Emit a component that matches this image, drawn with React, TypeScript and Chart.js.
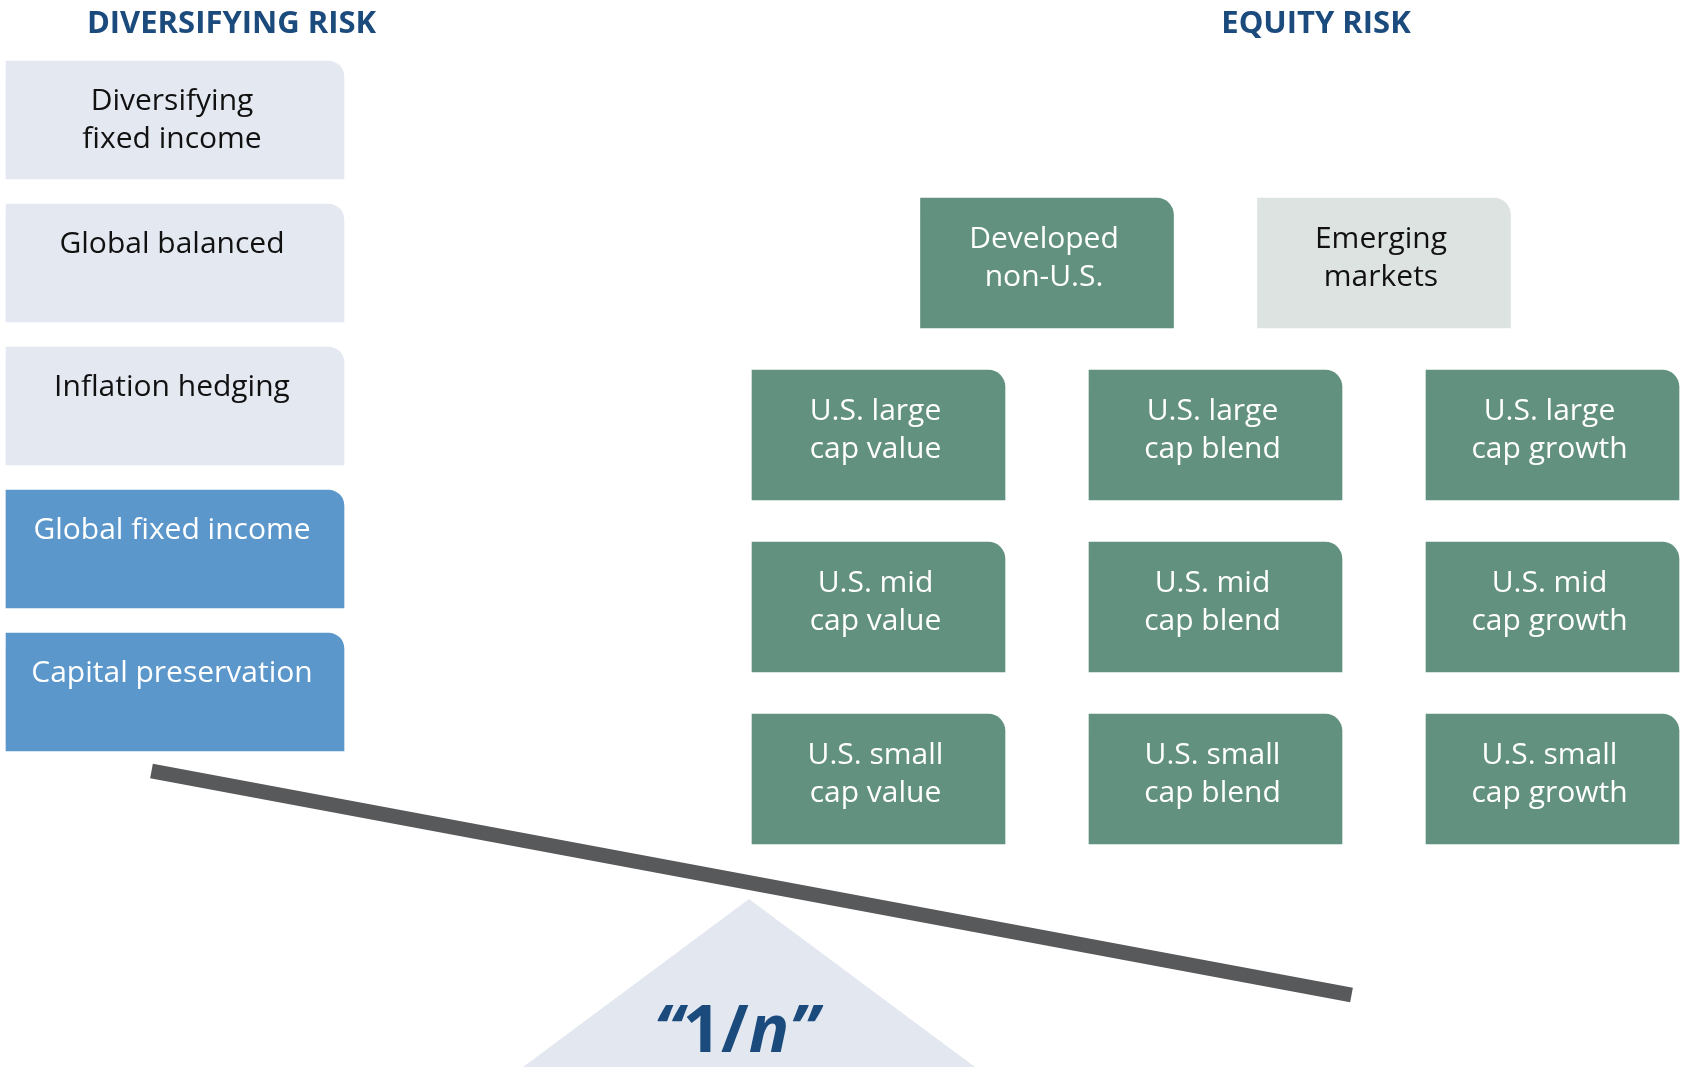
import React, { useEffect, useRef } from "react";
import { Chart, registerables } from "chart.js";

Chart.register(...registerables);

// ---------------- DATA ----------------
const leftTitle = "DIVERSIFYING RISK";
const rightTitle = "EQUITY RISK";
const diversifyingLabels: string[][] = [
  ["Diversifying", "fixed income"],
  ["Global balanced"],
  ["Inflation hedging"],
  ["Global fixed income"],
  ["Capital preservation"],
];
const diversifyingInModel = [false, false, false, true, true];
const internationalLabels: string[][] = [
  ["Developed", "non-U.S."],
  ["Emerging", "markets"],
];
const internationalInModel = [true, false];
const sizeLabels = ["large", "mid", "small"];
const styleLabels = ["value", "blend", "growth"];
const fulcrumParts = ["\u201C", "1", "/", "n", "\u201D"];
const fulcrumItalic = [true, false, false, true, true];

// ---------------- LAYOUT / STYLE ----------------
const W = 1681;
const H = 1067;
const FONT = '"Open Sans", "Noto Sans", sans-serif';
const TITLE_COLOR = "#1B4A7C";
const LIGHT_BOX = "#E3E8F1";
const BLUE_BOX = "#5B97CB";
const GREEN_BOX = "#62917F";
const GREY_GREEN_BOX = "#DDE3E0";
const BEAM_COLOR = "#58595B";
const FULCRUM_COLOR = "#E3E8F0";

const LEFT_X0 = 6;
const LEFT_X1 = 344;
const LEFT_TOP = 61;
const LEFT_STEP = 143;
const LEFT_H = 118;

const GRID_X0 = 752;
const COL_STEP = 337;
const BOX_W = 253;
const GRID_TOP = 198;
const ROW_STEP = 172;
const BOX_H = 130;

const BEAM_START = { x: 151.5, y: 771 };
const BEAM_END = { x: 1351.5, y: 995 };
const APEX = { x: 749, y: 899 };
const BASE_HALF = 226;

// ---------------- BUILD ----------------
const leftPoints = diversifyingLabels.map((_, i) => ({
  x: [LEFT_X0, LEFT_X1],
  y: LEFT_TOP + i * LEFT_STEP + LEFT_H / 2,
}));
const leftColors = diversifyingInModel.map((v) => (v ? BLUE_BOX : LIGHT_BOX));
const leftText = diversifyingInModel.map((v) => (v ? "#FFFFFF" : "#111111"));

const equityPoints: { x: number[]; y: number }[] = [];
const equityLines: string[][] = [];
const equityColors: string[] = [];
const equityText: string[] = [];
internationalLabels.forEach((lines, i) => {
  const x0 = GRID_X0 + (i + 0.5) * COL_STEP;
  equityPoints.push({ x: [x0, x0 + BOX_W], y: GRID_TOP + BOX_H / 2 });
  equityLines.push(lines);
  equityColors.push(internationalInModel[i] ? GREEN_BOX : GREY_GREEN_BOX);
  equityText.push(internationalInModel[i] ? "#FFFFFF" : "#111111");
});
sizeLabels.forEach((size, r) => {
  styleLabels.forEach((style, c) => {
    const x0 = GRID_X0 + c * COL_STEP;
    equityPoints.push({
      x: [x0, x0 + BOX_W],
      y: GRID_TOP + (r + 1) * ROW_STEP + BOX_H / 2,
    });
    equityLines.push([`U.S. ${size}`, `cap ${style}`]);
    equityColors.push(GREEN_BOX);
    equityText.push("#FFFFFF");
  });
});

const boxText: Record<number, { lines: string[][]; colors: string[]; first: number; step: number }> = {
  2: { lines: diversifyingLabels, colors: leftText, first: 49, step: 38 },
  3: { lines: equityLines, colors: equityText, first: 50, step: 38 },
};

const labelPlugin = {
  id: "diagramLabels",
  afterDatasetsDraw(chart: any) {
    const ctx: CanvasRenderingContext2D = chart.ctx;
    const xs = chart.scales.x;
    const ys = chart.scales.y;
    ctx.save();
    ctx.textAlign = "center";
    ctx.textBaseline = "alphabetic";

    ctx.fillStyle = TITLE_COLOR;
    ctx.font = `bold 31px ${FONT}`;
    ctx.fillText(leftTitle, xs.getPixelForValue(231.5), ys.getPixelForValue(33));
    ctx.fillText(rightTitle, xs.getPixelForValue(1316), ys.getPixelForValue(33));

    ctx.font = `30px ${FONT}`;
    Object.keys(boxText).forEach((k) => {
      const di = Number(k);
      const cfg = boxText[di];
      const meta = chart.getDatasetMeta(di);
      meta.data.forEach((el: any, i: number) => {
        const p = el.getProps(["x", "y", "base", "height"], true);
        const cx = (p.x + p.base) / 2 - 3;
        const top = p.y - p.height / 2;
        ctx.fillStyle = cfg.colors[i];
        cfg.lines[i].forEach((t, j) => {
          ctx.fillText(t, cx, top + cfg.first + j * cfg.step);
        });
      });
    });

    // fulcrum label
    const fonts = fulcrumItalic.map((it) => `${it ? "italic " : ""}bold 67px ${FONT}`);
    const widths = fulcrumParts.map((t, i) => {
      ctx.font = fonts[i];
      return ctx.measureText(t).width;
    });
    const total = widths.reduce((a, b) => a + b, 0);
    let x = xs.getPixelForValue(736) - total / 2;
    const by = ys.getPixelForValue(1052);
    ctx.textAlign = "left";
    ctx.fillStyle = TITLE_COLOR;
    fulcrumParts.forEach((t, i) => {
      ctx.font = fonts[i];
      ctx.fillText(t, x, by);
      x += widths[i];
    });
    ctx.restore();
  },
};

export default function App() {
  const ref = useRef<HTMLCanvasElement>(null);
  useEffect(() => {
    const canvas = ref.current!;
    const chart = new Chart(canvas, {
      type: "bar",
      data: {
        datasets: [
          {
            type: "line",
            indexAxis: "x",
            data: [
              { x: APEX.x - BASE_HALF, y: H },
              { x: APEX.x, y: APEX.y },
              { x: APEX.x + BASE_HALF, y: H },
            ],
            borderWidth: 0,
            borderColor: FULCRUM_COLOR,
            backgroundColor: FULCRUM_COLOR,
            fill: { value: H },
            pointRadius: 0,
            tension: 0,
          },
          {
            type: "line",
            indexAxis: "x",
            data: [BEAM_START, BEAM_END],
            borderWidth: 15,
            borderColor: BEAM_COLOR,
            borderCapStyle: "butt",
            fill: false,
            pointRadius: 0,
            tension: 0,
          },
          {
            type: "bar",
            indexAxis: "y",
            data: leftPoints,
            backgroundColor: leftColors,
            barThickness: LEFT_H,
            grouped: false,
            borderSkipped: false,
            borderWidth: 0,
            borderRadius: { topLeft: 0, topRight: 16, bottomLeft: 0, bottomRight: 0 },
          },
          {
            type: "bar",
            indexAxis: "y",
            data: equityPoints,
            backgroundColor: equityColors,
            barThickness: BOX_H,
            grouped: false,
            borderSkipped: false,
            borderWidth: 0,
            borderRadius: { topLeft: 0, topRight: 17, bottomLeft: 0, bottomRight: 0 },
          },
        ] as any,
      },
      options: {
        animation: false,
        responsive: false,
        maintainAspectRatio: false,
        devicePixelRatio: 1,
        events: [],
        layout: { padding: 0, autoPadding: false },
        plugins: { legend: { display: false }, tooltip: { enabled: false }, title: { display: false } },
        scales: {
          x: { type: "linear", min: 0, max: W, display: false, offset: false, grace: 0 },
          y: { type: "linear", min: 0, max: H, reverse: true, display: false, offset: false, grace: 0 },
        },
      } as any,
      plugins: [labelPlugin],
    });
    let alive = true;
    const fs: any = (document as any).fonts;
    if (fs && fs.load) {
      Promise.all([
        fs.load(`30px "Open Sans"`),
        fs.load(`bold 31px "Open Sans"`),
        fs.load(`italic bold 67px "Open Sans"`),
      ])
        .catch(() => null)
        .then(() => {
          if (alive) chart.update("none");
        });
    }
    return () => {
      alive = false;
      chart.destroy();
    };
  }, []);
  return (
    <div style={{ position: "absolute", left: 0, top: 0, width: W, height: H, background: "#FFFFFF" }}>
      <canvas ref={ref} width={W} height={H} style={{ display: "block", width: W, height: H }} />
    </div>
  );
}
